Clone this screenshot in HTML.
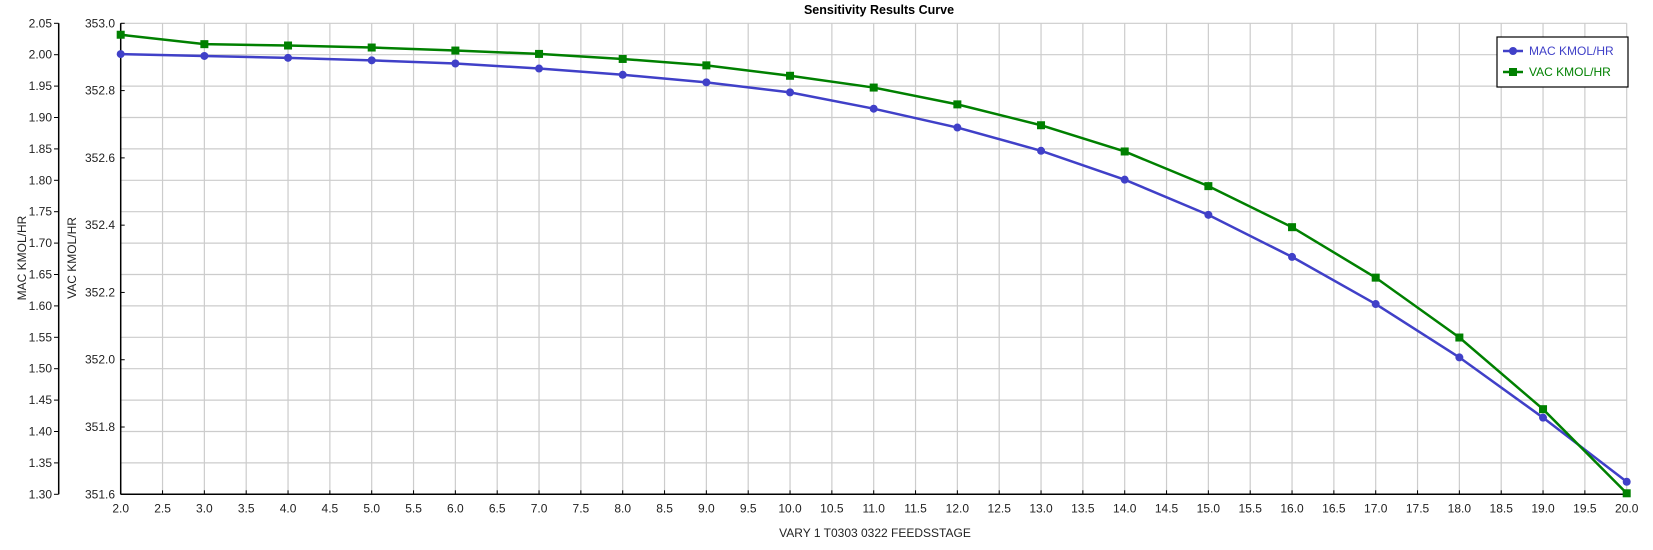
<!DOCTYPE html>
<html><head><meta charset="utf-8"><style>
html,body{margin:0;padding:0;background:#fff;}
svg{display:block;font-family:"Liberation Sans",sans-serif;}
</style></head><body>
<svg id="s" width="1653" height="550" xmlns="http://www.w3.org/2000/svg"></svg>
<script>
const s=document.getElementById('s');
let h='';
const X0=120.7,X1=1626.7,Y0=23.3,Y1=494.3;
const fx=v=>X0+(v-2)/18*(X1-X0);
const fyL=v=>Y1-(v-1.30)/0.75*(Y1-Y0);
const fyR=v=>Y1-(v-351.6)/1.4*(Y1-Y0);
// grid
for(let i=1;i<=36;i++){const x=fx(2+i*0.5);h+=`<line x1="${x}" y1="${Y0}" x2="${x}" y2="${Y1}" stroke="#cccccc" stroke-width="1.2"/>`;}
for(let i=1;i<=15;i++){const y=fyL(1.30+i*0.05);h+=`<line x1="${X0}" y1="${y}" x2="${X1}" y2="${y}" stroke="#cccccc" stroke-width="1.2"/>`;}
// axes
h+=`<line x1="${X0}" y1="${Y0}" x2="${X0}" y2="${Y1}" stroke="#000" stroke-width="1.5"/>`;
h+=`<line x1="${X0}" y1="${Y1}" x2="${X1}" y2="${Y1}" stroke="#000" stroke-width="1.5"/>`;
h+=`<line x1="58.7" y1="${Y0}" x2="58.7" y2="${Y1}" stroke="#000" stroke-width="1.5"/>`;
for(let i=0;i<=15;i++){const v=1.30+i*0.05,y=fyL(v);h+=`<line x1="54" y1="${y}" x2="58.7" y2="${y}" stroke="#000"/><text x="52" y="${y+4}" font-size="12" text-anchor="end" fill="#222">${v.toFixed(2)}</text>`;}
for(let i=0;i<=7;i++){const v=351.6+i*0.2,y=fyR(v);h+=`<line x1="${X0}" y1="${y}" x2="${X0+4}" y2="${y}" stroke="#000"/><text x="115" y="${y+4}" font-size="12" text-anchor="end" fill="#222">${v.toFixed(1)}</text>`;}
for(let i=0;i<=36;i++){const v=2+i*0.5,x=fx(v);h+=`<line x1="${x}" y1="${Y1}" x2="${x}" y2="${Y1-4}" stroke="#000"/><text x="${x}" y="${Y1+18}" font-size="12" text-anchor="middle" fill="#222">${v.toFixed(1)}</text>`;}
h+=`<text x="879" y="14" font-size="12.5" font-weight="bold" text-anchor="middle">Sensitivity Results Curve</text>`;
h+=`<text x="875" y="537" font-size="12" text-anchor="middle" fill="#222">VARY   1 T0303 0322 FEEDSSTAGE</text>`;
h+=`<text transform="translate(26,258) rotate(-90)" font-size="12" text-anchor="middle" fill="#222">MAC KMOL/HR</text>`;
h+=`<text transform="translate(76,258) rotate(-90)" font-size="12" text-anchor="middle" fill="#222">VAC KMOL/HR</text>`;
const mac=[2.001,1.998,1.995,1.991,1.986,1.978,1.968,1.956,1.940,1.914,1.884,1.847,1.801,1.745,1.678,1.603,1.518,1.422,1.320];
const vac=[352.966,352.938,352.934,352.928,352.919,352.909,352.894,352.875,352.844,352.809,352.759,352.697,352.619,352.516,352.394,352.244,352.066,351.853,351.603];
let p1=mac.map((v,i)=>`${fx(2+i)},${fyL(v)}`).join(' ');
let p2=vac.map((v,i)=>`${fx(2+i)},${fyR(v)}`).join(' ');
h+=`<polyline points="${p1}" fill="none" stroke="#4040c8" stroke-width="2.5"/>`;
h+=`<polyline points="${p2}" fill="none" stroke="#008000" stroke-width="2.5"/>`;
mac.forEach((v,i)=>{h+=`<circle cx="${fx(2+i)}" cy="${fyL(v)}" r="4" fill="#4040c8"/>`;});
vac.forEach((v,i)=>{h+=`<rect x="${fx(2+i)-4}" y="${fyR(v)-4}" width="8" height="8" fill="#008000"/>`;});
// legend
h+=`<rect x="1497" y="37" width="131" height="50" fill="#fff" stroke="#000" stroke-width="1.2"/>`;
h+=`<line x1="1503" y1="51" x2="1523" y2="51" stroke="#4040c8" stroke-width="2.5"/><circle cx="1513" cy="51" r="4" fill="#4040c8"/><text x="1529" y="55" font-size="12" fill="#4040c8">MAC KMOL/HR</text>`;
h+=`<line x1="1503" y1="72" x2="1523" y2="72" stroke="#008000" stroke-width="2.5"/><rect x="1509" y="68" width="8" height="8" fill="#008000"/><text x="1529" y="76" font-size="12" fill="#008000">VAC KMOL/HR</text>`;
s.innerHTML=h;
</script>
</body></html>
